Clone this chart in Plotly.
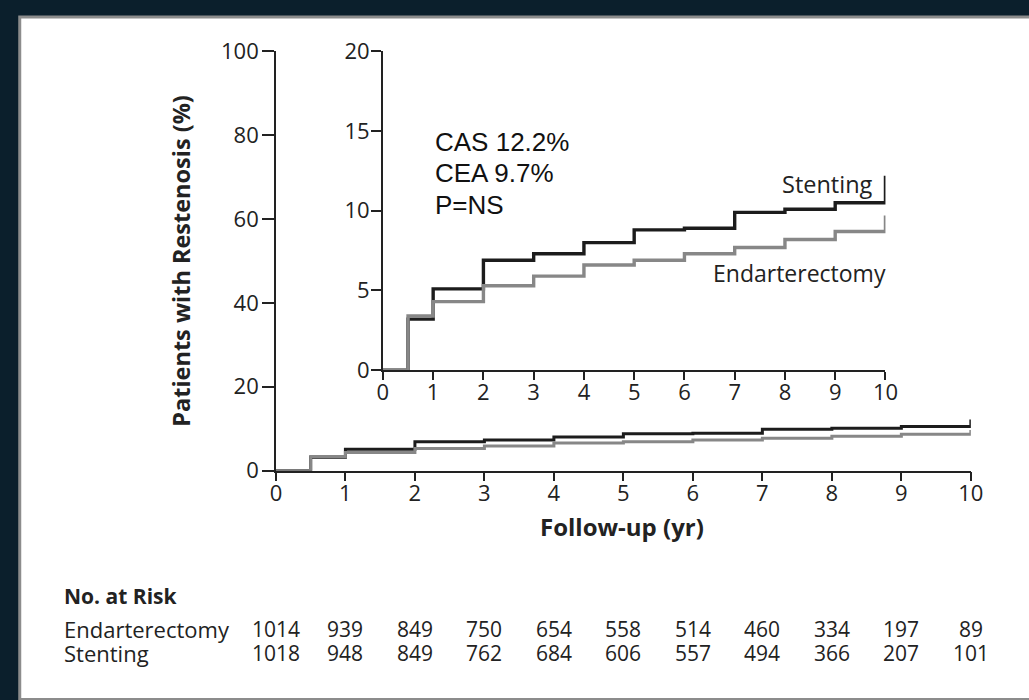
import plotly.graph_objects as go

W, H = 1029, 700

# ---- data ----
years = [0, 0.5, 1, 2, 3, 4, 5, 6, 7, 8, 9, 10, 10]
stenting = [0, 3.2, 5.1, 6.9, 7.3, 8.0, 8.8, 8.9, 9.9, 10.1, 10.5, 10.5, 12.2]
endarterectomy = [0, 3.4, 4.3, 5.3, 5.9, 6.6, 6.9, 7.3, 7.7, 8.2, 8.7, 8.7, 9.7]

risk_years = [0, 1, 2, 3, 4, 5, 6, 7, 8, 9, 10]
risk_endarterectomy = [1014, 939, 849, 750, 654, 558, 514, 460, 334, 197, 89]
risk_stenting = [1018, 948, 849, 762, 684, 606, 557, 494, 366, 207, 101]

main_yticks = [0, 20, 40, 60, 80, 100]
inset_yticks = [0, 5, 10, 15, 20]
xticks = list(range(0, 11))

FONT = "Open Sans"
INK = "#222222"
BLACK = "#1c1c1c"
GRAY = "#878787"
DARK = "#0b1f2c"


def px(x):
    return x / W


def py(y):
    return 1 - y / H


fig = go.Figure()

for xa, ya, lw in (("x", "y", 3.0), ("x2", "y2", 3.4)):
    fig.add_trace(go.Scatter(x=years, y=stenting, mode="lines", line=dict(color=BLACK, width=lw, shape="hv"),
                             xaxis=xa, yaxis=ya, showlegend=False, hoverinfo="skip"))
    fig.add_trace(go.Scatter(x=years, y=endarterectomy, mode="lines", line=dict(color=GRAY, width=lw, shape="hv"),
                             xaxis=xa, yaxis=ya, showlegend=False, hoverinfo="skip"))

axis_common = dict(showgrid=False, zeroline=False, showline=True, linecolor=INK, linewidth=1.6,
                   ticks="outside", tickcolor=INK, tickwidth=1.6,
                   tickfont=dict(family=FONT, size=22, color=INK))

fig.update_layout(
    width=W, height=H, autosize=False,
    margin=dict(l=0, r=0, t=0, b=0),
    paper_bgcolor=DARK,
    plot_bgcolor="rgba(0,0,0,0)",
    xaxis=dict(domain=[px(275), px(983)], range=[0, 10], tickvals=xticks, ticklen=9, anchor="y",
               ticklabelstandoff=-7, **axis_common),
    yaxis=dict(domain=[py(475), py(37)], range=[0, 100], tickvals=main_yticks, ticklen=12, anchor="x",
               ticklabelstandoff=-1, **axis_common),
    xaxis2=dict(domain=[px(384), px(896)], range=[0, 10], tickvals=xticks, ticklen=8, anchor="y2",
                ticklabelstandoff=-6, **axis_common),
    yaxis2=dict(domain=[py(370), py(37)], range=[0, 20], tickvals=inset_yticks, ticklen=10, anchor="x2",
                ticklabelstandoff=-3, **axis_common),
)

fig.add_shape(type="rect", xref="paper", yref="paper", x0=px(14), x1=1.02, y0=-0.02, y1=py(1),
              fillcolor="white", line=dict(color="#8c8c8c", width=3), layer="below")


def note(text, x, y, size=20, bold=False, xanchor="center", yanchor="middle", family=FONT, angle=0,
         xref="paper", color=INK):
    f = dict(family=family, size=size, color=color)
    if bold:
        f["weight"] = "bold"
    return dict(text=text, xref=xref, yref="paper", x=x, y=y, xanchor=xanchor, yanchor=yanchor,
                textangle=angle, showarrow=False, font=f)


ann = []
ann.append(note("Patients with Restenosis (%)", px(178), py(256), size=23.5, bold=True, angle=-90))
ann.append(note("Follow-up (yr)", px(628), py(533), size=24, bold=True))
ann.append(note("No. at Risk", px(57), py(606), size=21, bold=True, xanchor="left"))
ann.append(note("Endarterectomy", px(57), py(640), size=22, xanchor="left"))
ann.append(note("Stenting", px(57), py(666), size=22, xanchor="left"))
for yr, a, b in zip(risk_years, risk_endarterectomy, risk_stenting):
    ann.append(note(str(a), yr, py(640), size=21, xref="x"))
    ann.append(note(str(b), yr, py(666), size=21, xref="x"))

# inset annotations
for t, yy in (("CAS 12.2%", 132), ("CEA 9.7%", 164), ("P=NS", 197)):
    ann.append(note(t, px(435), py(yy), size=26, xanchor="left", family="Liberation Sans", color="#111111"))
ann.append(note("Stenting", px(885), py(176), size=23.5, xanchor="right"))
ann.append(note("Endarterectomy", px(899), py(268), size=23, xanchor="right"))

fig.update_layout(annotations=ann)

page_css = (
    "document.body.style.margin='0px';"
    "document.body.style.background="
    "'linear-gradient(to right, %s 40px, rgba(0,0,0,0) 40px), linear-gradient(to bottom, %s 30px, #ffffff 30px)';"
    "document.body.style.minHeight='100vh';"
    "document.documentElement.style.overflow='hidden';"
) % (DARK, DARK)

fig.write_html("out.html", config={"displayModeBar": False}, post_script=page_css)
